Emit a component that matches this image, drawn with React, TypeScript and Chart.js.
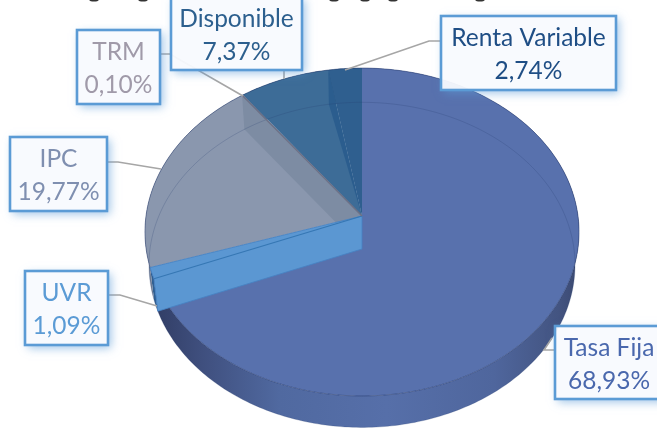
import React, { useEffect, useRef } from "react";
import { Chart, registerables } from "chart.js";

Chart.register(...registerables);

const categories = ["Tasa Fija", "UVR", "IPC", "TRM", "Disponible", "Renta Variable"];
const shares = [68.93, 1.09, 19.77, 0.1, 7.37, 2.74];
const faceColors = ["#5871ad", "#5b97d2", "#8a97ae", "#8a8fa6", "#3d6c97", "#2f5f8f"];
const rimColors = ["#4f659c", "#2f5f92", "#6f7d95", "#6f7d95", "#2f5a82", "#28507a"];
const textColors = ["#4a68ad", "#5b9bd5", "#7f8fb0", "#a09aa9", "#2c5f8e", "#1f4e85"];

// label boxes in pixels, in the order of categories: x, y, w, h
const labelBoxes = [
  [555, 326, 108, 73],
  [25, 271, 83, 74],
  [10, 137, 97, 74],
  [77, 30, 83, 74],
  [171, -3, 131, 73],
  [441, 16, 175, 74],
];
const leaderPaths = [
  [[555, 350], [544, 350], [552, 338]],
  [[108, 295], [120, 295], [157, 306]],
  [[107, 162], [118, 162], [161, 169]],
  [[160, 54], [170, 54], [243, 96]],
  [[284, 70], [284, 79]],
  [[441, 41], [429, 41], [345, 70]],
];
const croppedTitleMarks = [94, 143, 334, 365, 393, 480];

const K = 0.0976;
const CX = 362;
const topFace = { cy: 216, a: 216, b: 162.4 };
const baseFace = { cy: 249, a: 212, b: 161 };

type Face = { cy: number; a: number; b: number };

function project(f: Face, angle: number): [number, number] {
  const u = Math.cos(angle);
  const v = Math.sin(angle);
  const d = 1 - K * v;
  return [CX + (f.a * u) / d, f.cy + (f.b * v) / d];
}

function rim(ctx: CanvasRenderingContext2D, f: Face, a0: number, a1: number) {
  const n = Math.max(2, Math.ceil(Math.abs(a1 - a0) * 60));
  for (let i = 0; i <= n; i++) {
    const [x, y] = project(f, a0 + ((a1 - a0) * i) / n);
    ctx.lineTo(x, y);
  }
}

function poly(ctx: CanvasRenderingContext2D, pts: number[][], fill: string) {
  ctx.beginPath();
  pts.forEach(([x, y], i) => (i ? ctx.lineTo(x, y) : ctx.moveTo(x, y)));
  ctx.closePath();
  ctx.fillStyle = fill;
  ctx.fill();
}

const pie3d = {
  id: "pie3d",
  beforeDatasetsDraw(chart: any) {
    const ctx: CanvasRenderingContext2D = chart.ctx;
    const arcs = chart.getDatasetMeta(0).data as any[];
    const colors = chart.data.datasets[0].backgroundColor as string[];
    const start = (i: number) => arcs[i].startAngle;
    const end = (i: number) => arcs[i].endAngle;
    const top = (a: number) => project(topFace, a);
    const base = (a: number) => project(baseFace, a);
    const vt = [CX, topFace.cy];
    const vb = [CX, baseFace.cy];
    ctx.save();

    // outer walls
    arcs.forEach((_, i) => {
      ctx.beginPath();
      const [x0, y0] = top(start(i));
      ctx.moveTo(x0, y0);
      rim(ctx, topFace, start(i), end(i));
      rim(ctx, baseFace, end(i), start(i));
      ctx.closePath();
      if (i === 0) {
        const g = ctx.createLinearGradient(150, 0, 580, 0);
        g.addColorStop(0, "#303c63");
        g.addColorStop(0.12, "#3f4f7e");
        g.addColorStop(0.3, "#5069a0");
        g.addColorStop(0.55, "#566fa9");
        g.addColorStop(0.8, "#4f669d");
        g.addColorStop(0.95, "#435481");
        g.addColorStop(1, "#3a486f");
        ctx.fillStyle = g;
      } else {
        ctx.fillStyle = rimColors[i];
      }
      ctx.fill();
    });

    // top faces
    arcs.forEach((_, i) => {
      ctx.beginPath();
      ctx.moveTo(vt[0], vt[1]);
      rim(ctx, topFace, start(i), end(i));
      ctx.closePath();
      ctx.fillStyle = colors[i];
      ctx.fill();
    });

    // wall seen through the Renta Variable / Disponible cut
    const cutA = start(5);
    poly(ctx, [top(cutA), base(cutA), vt], "#2b5d8e");

    // wall seen through the IPC / TRM cut
    const cutB = end(2);
    poly(ctx, [vt, top(cutB), base(cutB), vb], "#7d8ca3");

    // faint outline of the base, seen through the faces
    ctx.beginPath();
    rim(ctx, baseFace, 0, Math.PI * 2);
    ctx.closePath();
    ctx.lineWidth = 1;
    ctx.strokeStyle = "rgba(35,60,110,0.22)";
    ctx.stroke();

    // rim of the top face
    ctx.beginPath();
    rim(ctx, topFace, 0, Math.PI * 2);
    ctx.closePath();
    ctx.lineWidth = 1;
    ctx.strokeStyle = "rgba(35,55,105,0.5)";
    ctx.stroke();

    // light blue cut of UVR
    const a0 = end(0);
    const a1 = end(1);
    ctx.beginPath();
    ctx.moveTo(vt[0], vt[1]);
    rim(ctx, topFace, a1, a0);
    const [bx, by] = base(a0);
    ctx.lineTo(bx, by);
    ctx.lineTo(vb[0], vb[1]);
    ctx.closePath();
    ctx.fillStyle = colors[1];
    ctx.fill();
    ctx.strokeStyle = "rgba(70,130,195,0.85)";
    ctx.lineWidth = 1;
    ctx.stroke();
    const [ix, iy] = top(a0);
    ctx.beginPath();
    ctx.moveTo(vt[0], vt[1]);
    ctx.lineTo(ix, iy);
    ctx.strokeStyle = "#3677b4";
    ctx.lineWidth = 1.2;
    ctx.stroke();

    // dark seam along the IPC / TRM cut
    const [sx, sy] = top(cutB);
    ctx.beginPath();
    ctx.moveTo(vt[0], vt[1]);
    ctx.lineTo(sx, sy);
    ctx.strokeStyle = "#6c7086";
    ctx.lineWidth = 1.5;
    ctx.stroke();

    ctx.restore();
    return false;
  },
  afterDraw(chart: any) {
    const ctx: CanvasRenderingContext2D = chart.ctx;
    ctx.save();
    ctx.strokeStyle = "#a6a6a6";
    ctx.lineWidth = 1.6;
    leaderPaths.forEach((p) => {
      ctx.beginPath();
      p.forEach(([x, y], i) => (i ? ctx.lineTo(x, y) : ctx.moveTo(x, y)));
      ctx.stroke();
    });
    ctx.fillStyle = "#333333";
    croppedTitleMarks.forEach((x) => {
      ctx.beginPath();
      ctx.ellipse(x, -1, 5, 2.6, 0, 0, Math.PI * 2);
      ctx.fill();
    });
    ctx.font = '24.5px Lato, "Open Sans", sans-serif';
    ctx.textAlign = "center";
    ctx.textBaseline = "middle";
    labelBoxes.forEach(([x, y, w, h], i) => {
      ctx.save();
      ctx.beginPath();
      ctx.rect(-20, -20, 720, 480);
      ctx.rect(x, y, w, h);
      ctx.clip("evenodd");
      ctx.shadowColor = "rgba(91,155,213,0.6)";
      ctx.shadowBlur = 9;
      ctx.shadowOffsetX = 3;
      ctx.shadowOffsetY = 3;
      ctx.fillStyle = "#ffffff";
      ctx.fillRect(x, y, w, h);
      ctx.restore();
      ctx.fillStyle = "rgba(248,250,254,0.95)";
      ctx.fillRect(x, y, w, h);
      ctx.strokeStyle = "#5b9bd5";
      ctx.lineWidth = 2.6;
      ctx.strokeRect(x, y, w, h);
      ctx.fillStyle = textColors[i];
      const mid = x + w / 2;
      ctx.fillText(categories[i], mid, y + 22);
      ctx.fillText(shares[i].toFixed(2).replace(".", ",") + "%", mid, y + 55);
    });
    ctx.restore();
  },
};

export default function App() {
  const ref = useRef<HTMLCanvasElement>(null);
  useEffect(() => {
    const chart = new Chart(ref.current!, {
      type: "pie",
      data: {
        labels: categories,
        datasets: [{ data: shares, backgroundColor: faceColors, borderWidth: 0 }],
      },
      options: {
        responsive: false,
        animation: false,
        plugins: { legend: { display: false }, tooltip: { enabled: false }, title: { display: false } },
      },
      plugins: [pie3d],
    } as any);
    return () => chart.destroy();
  }, []);
  return (
    <div style={{ position: "fixed", left: 0, top: 0, width: 657, height: 429, background: "#fff" }}>
      <canvas ref={ref} width={657} height={429} style={{ display: "block" }} />
    </div>
  );
}
